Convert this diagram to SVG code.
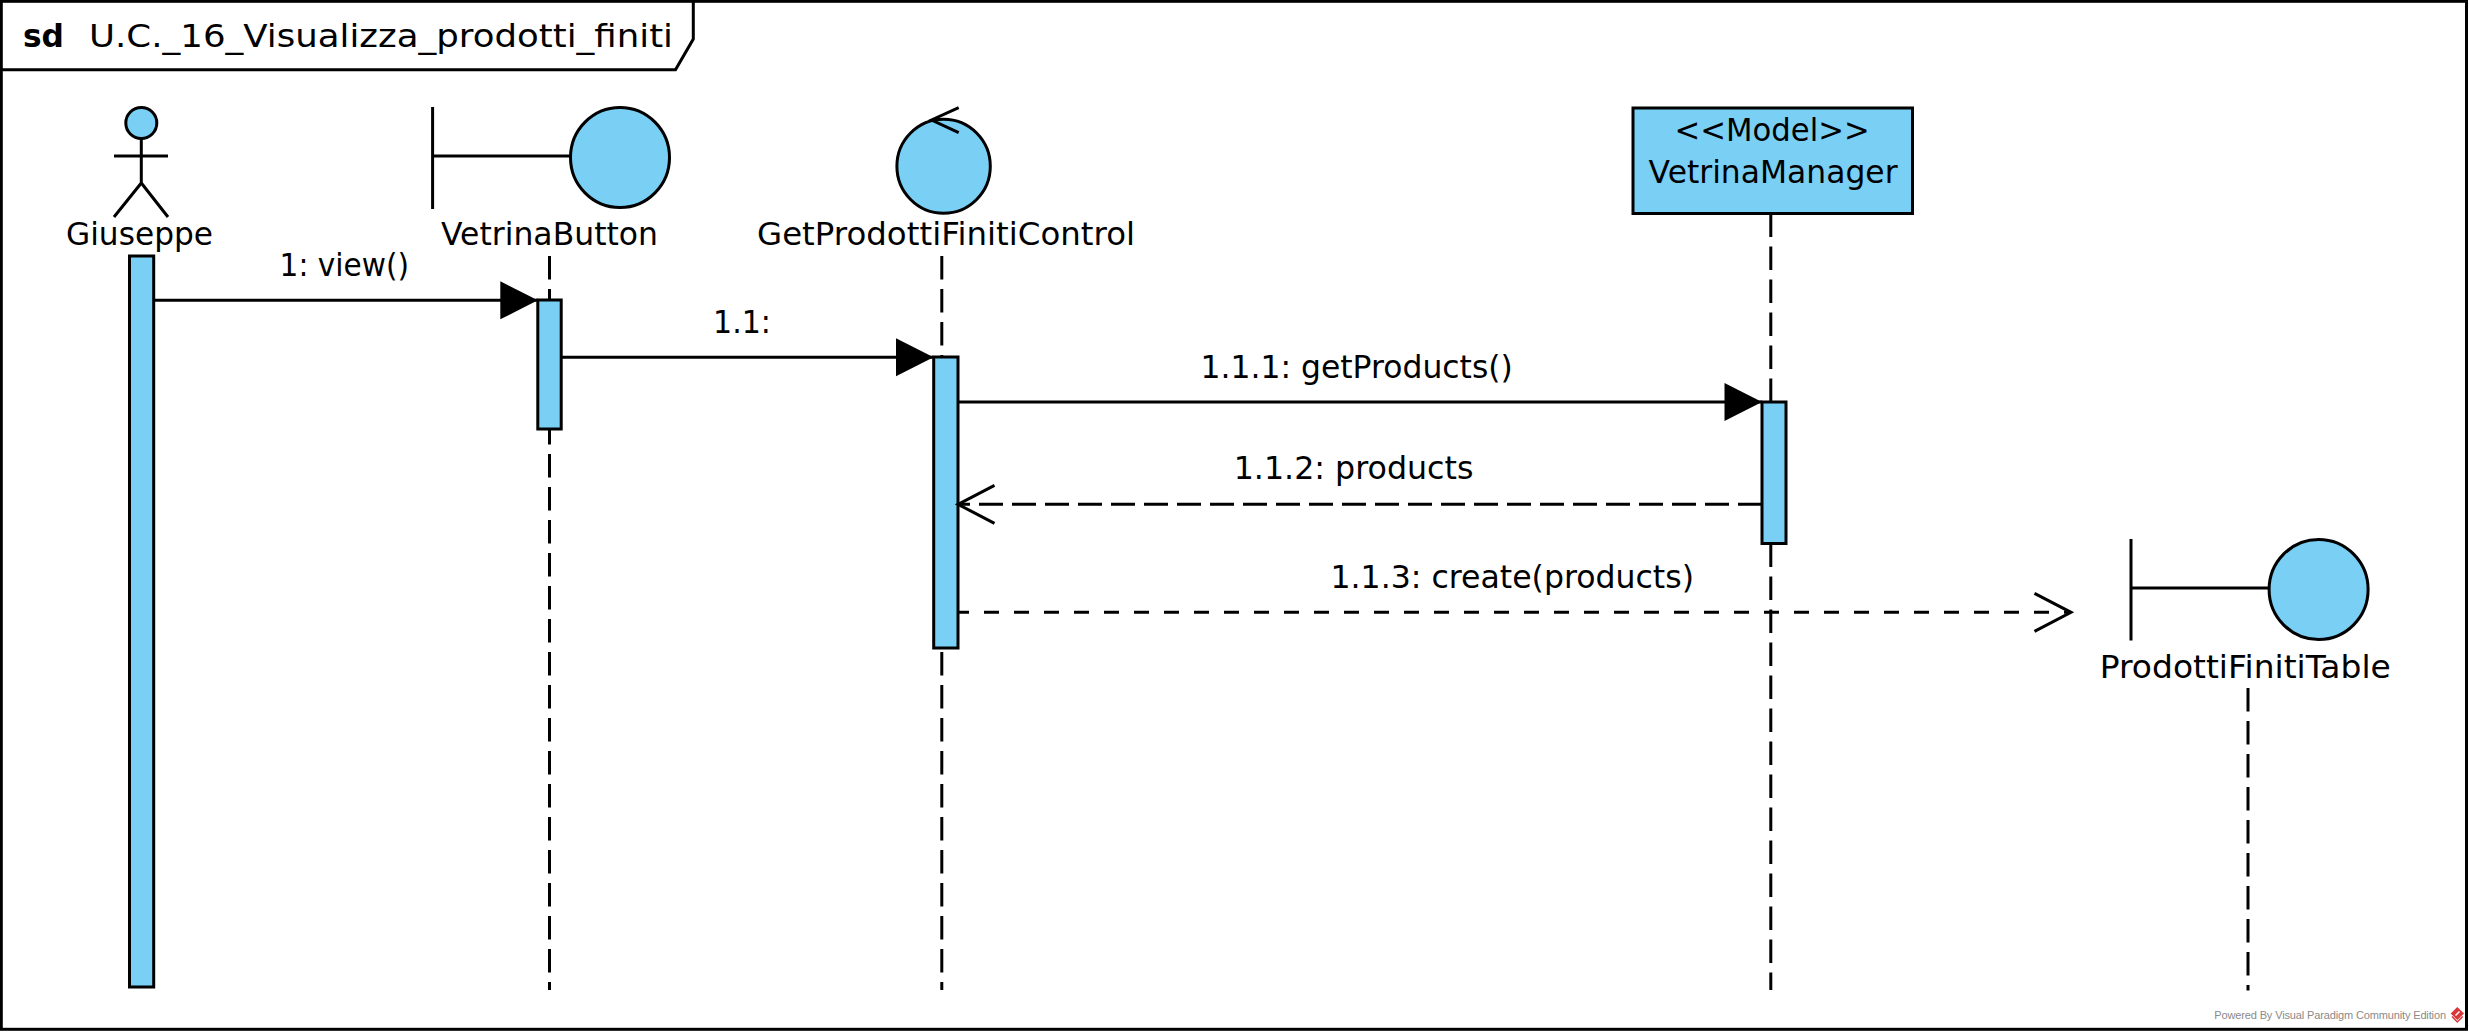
<svg xmlns="http://www.w3.org/2000/svg" width="2469" height="1032" viewBox="0 0 2469 1032">
<style>
text{font-family:"DejaVu Sans","Liberation Sans",sans-serif;font-size:31.5px;fill:#000}
.b{font-weight:bold}
.foot{font-family:"Liberation Sans",sans-serif;font-size:11px;fill:#8a8a8a}
.s{fill:none;stroke:#000;stroke-width:3}
.f{fill:#7acff5;stroke:#000;stroke-width:3}
.life{fill:none;stroke:#000;stroke-width:3;stroke-dasharray:23.500 9.500}
.msg{fill:none;stroke:#000;stroke-width:3}
.ret{stroke-dasharray:24 9}
.cre{stroke-dasharray:15 15;stroke-dashoffset:4}
</style>
<defs>
<marker id="filled" markerUnits="userSpaceOnUse" markerWidth="40" markerHeight="40" viewBox="0 0 38 40" refX="37.5" refY="20" orient="auto"><path d="M0 1L37.5 20L0 39Z" fill="#000"/></marker>
<marker id="open" markerUnits="userSpaceOnUse" markerWidth="42" markerHeight="44" viewBox="0 0 42 44" refX="38.5" refY="22" orient="auto"><path d="M2 3L38.5 22L2 41" fill="none" stroke="#000" stroke-width="3"/></marker>
</defs>
<rect width="2469" height="1032" fill="#fff"/>
<g id="frame">
<rect class="s" x="1.300" y="1.300" width="2465.200" height="1028"/>
<path class="s" d="M1.300 69.700H675.500L693.300 39V1.300"/>
<text class="b" x="23" y="47" textLength="41" lengthAdjust="spacingAndGlyphs">sd</text>
<text x="89" y="47" textLength="584" lengthAdjust="spacingAndGlyphs">U.C._16_Visualizza_prodotti_finiti</text>
</g>
<g id="giuseppe">
<ellipse class="f" cx="141.3" cy="123" rx="15.5" ry="15.5"/>
<path class="s" d="M141.3 138.5V183M114 156H168M114 217L141.3 183L168 217"/>
<text x="66" y="245" textLength="147" lengthAdjust="spacingAndGlyphs">Giuseppe</text>
<rect class="f" x="129.5" y="256" width="24.2" height="731"/>
</g>
<g id="vetrinaButton">
<path class="s" d="M432.6 107V209M432.6 156H570"/>
<ellipse class="f" cx="620" cy="157.5" rx="49.5" ry="50"/>
<text x="441" y="245" textLength="217" lengthAdjust="spacingAndGlyphs">VetrinaButton</text>
<path class="life" d="M549.5 256V990"/>
<rect class="f" x="537.8" y="300" width="23.4" height="129"/>
</g>
<g id="getProdottiFinitiControl">
<ellipse class="f" cx="943.6" cy="166.3" rx="46.7" ry="47"/>
<path class="s" d="M958.7 107.7L931.6 120L958.7 132.7"/>
<text x="757" y="245" textLength="378" lengthAdjust="spacingAndGlyphs">GetProdottiFinitiControl</text>
<path class="life" d="M941.8 256V990"/>
<rect class="f" x="933.7" y="357" width="24.3" height="291"/>
</g>
<g id="vetrinaManager">
<rect class="f" x="1633" y="108" width="279.5" height="105.5"/>
<text x="1674.6" y="141" textLength="195" lengthAdjust="spacingAndGlyphs">&lt;&lt;Model&gt;&gt;</text>
<text x="1648.6" y="183" textLength="249" lengthAdjust="spacingAndGlyphs">VetrinaManager</text>
<path class="life" d="M1770.8 213.5V990"/>
<rect class="f" x="1762" y="402" width="24" height="141.5"/>
</g>
<g id="prodottiFinitiTable">
<path class="s" d="M2131 539V640.5M2131 588H2269"/>
<ellipse class="f" cx="2318.6" cy="589.5" rx="49.5" ry="50"/>
<text x="2099.8" y="678" textLength="291" lengthAdjust="spacingAndGlyphs">ProdottiFinitiTable</text>
<path class="life" d="M2248 688V990.5"/>
</g>
<g id="connectors">
<path class="msg" d="M154 300.3H537.8" marker-end="url(#filled)"/>
<text x="279.6" y="275.7" textLength="129.4" lengthAdjust="spacingAndGlyphs">1: view()</text>
<path class="msg" d="M561 357.3H933.5" marker-end="url(#filled)"/>
<text x="713" y="332.7" textLength="58" lengthAdjust="spacingAndGlyphs">1.1:</text>
<path class="msg" d="M958 402H1762" marker-end="url(#filled)"/>
<text x="1200.5" y="377.7" textLength="312.3" lengthAdjust="spacingAndGlyphs">1.1.1: getProducts()</text>
<path class="msg ret" d="M1762 504.3H958" marker-end="url(#open)"/>
<text x="1233.7" y="479" textLength="239.8" lengthAdjust="spacingAndGlyphs">1.1.2: products</text>
<path class="msg cre" d="M958 612.3H2071" marker-end="url(#open)"/>
<text x="1330.5" y="588" textLength="363.5" lengthAdjust="spacingAndGlyphs">1.1.3: create(products)</text>
</g>
<g id="watermark">
<text class="foot" x="2214.3" y="1019" textLength="231.7" lengthAdjust="spacing">Powered By Visual Paradigm Community Edition</text>
<path d="M2457.300 1007L2464 1013.500L2457.300 1020L2450.700 1013.500Z" fill="#d9363a"/>
<path d="M2452 1016.500L2457.300 1022L2462.700 1016.500" fill="none" stroke="#d9363a" stroke-width="1.500"/>
<path d="M2455.500 1015.500L2459.500 1011.500" fill="none" stroke="#fff" stroke-width="1.500"/>
</g>
</svg>
